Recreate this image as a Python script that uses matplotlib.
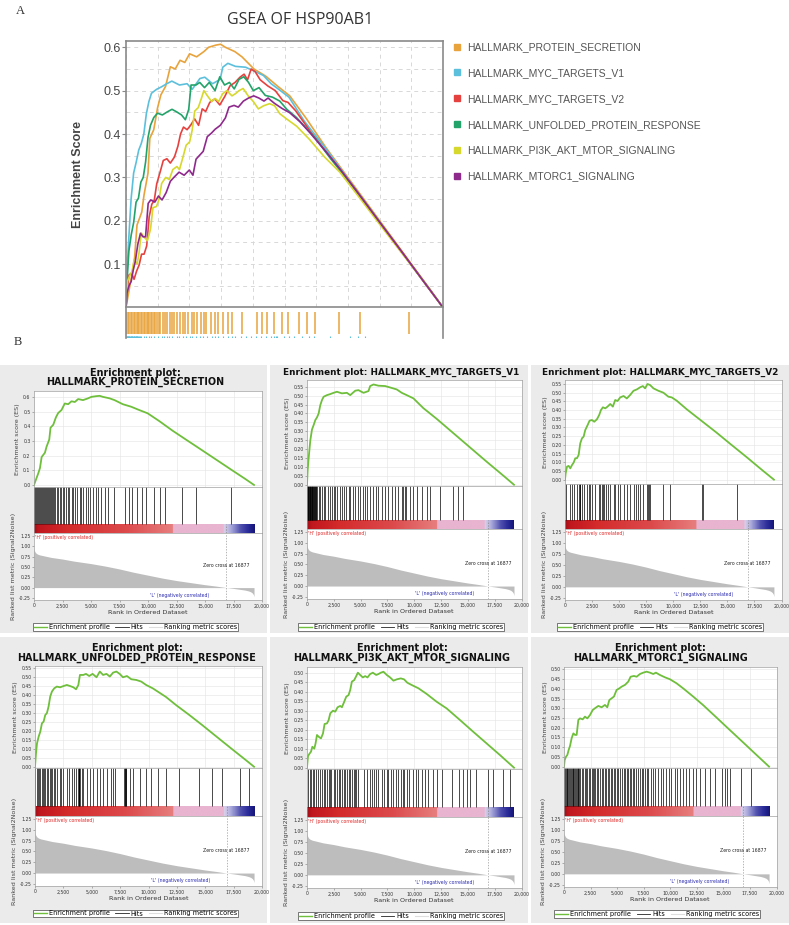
## GSEA of HSP90AB1
# Panel A: the six running enrichment scores overlaid
# Panel B: one classic GSEA enrichment plot per gene set

import numpy as np
import matplotlib.pyplot as plt
from matplotlib.lines import Line2D
from matplotlib.patches import Rectangle
from matplotlib.colors import LinearSegmentedColormap

## Data
n_genes = 19300
zero_cross = 16877

gene_sets = ['HALLMARK_PROTEIN_SECRETION', 'HALLMARK_MYC_TARGETS_V1',
             'HALLMARK_MYC_TARGETS_V2', 'HALLMARK_UNFOLDED_PROTEIN_RESPONSE',
             'HALLMARK_PI3K_AKT_MTOR_SIGNALING', 'HALLMARK_MTORC1_SIGNALING']
set_colors = ['#e8a33c', '#5cc0dc', '#e5423f', '#23a36a', '#d7d82e', '#8f2a8d']

# running enrichment score: rank and ES
es_rank_secretion = [0, 378, 523, 670, 960, 1100, 1340, 1450, 1690, 1920, 2120, 2410, 2700, 3000,
                     3290, 3580, 3870, 4300, 4740, 5030, 5470, 5760, 6050, 6630, 7060, 7790, 8520,
                     9240, 9970, 10990, 12150, 13310, 14480, 15930, 17380, 18550, 19300]
es_secretion = [0, 0.08, 0.115, 0.19, 0.22, 0.26, 0.31, 0.39, 0.41, 0.46, 0.49, 0.51, 0.555, 0.55,
                0.57, 0.565, 0.585, 0.578, 0.59, 0.60, 0.605, 0.607, 0.60, 0.59, 0.578, 0.55, 0.533,
                0.51, 0.488, 0.435, 0.37, 0.31, 0.25, 0.175, 0.10, 0.04, 0]

es_rank_myc1 = [0, 60, 155, 310, 465, 620, 775, 930, 1085, 1240, 1395, 1550, 1860, 2170, 2480,
                2790, 3255, 3720, 4030, 4500, 4800, 5270, 5735, 5890, 6200, 6665, 7285, 7750, 8370,
                8835, 9300, 9920, 10850, 12090, 13640, 15190, 16740, 18290, 19300]
es_myc1 = [0, 0.08, 0.15, 0.25, 0.31, 0.335, 0.363, 0.378, 0.40, 0.447, 0.475, 0.494, 0.503,
           0.509, 0.516, 0.522, 0.513, 0.516, 0.503, 0.528, 0.531, 0.516, 0.526, 0.554, 0.563,
           0.556, 0.554, 0.546, 0.535, 0.516, 0.503, 0.485, 0.43, 0.37, 0.29, 0.21, 0.13,
           0.052, 0]

es_rank_myc2 = [0, 61, 184, 338, 490, 645, 800, 950, 1100, 1260, 1410, 1570, 1720, 1870, 2090,
                2270, 2490, 2700, 2950, 3160, 3320, 3500, 3720, 3930, 4180, 4420, 4640, 4850, 5100,
                5410, 5710, 6020, 6330, 6640, 6940, 7190, 7400, 7620, 7860, 8170, 8630, 9090,
                9550, 9860, 10320, 11240, 12160, 12780, 14010, 15240, 16770, 18310, 19300]
es_myc2 = [0, 0.036, 0.075, 0.079, 0.065, 0.084, 0.098, 0.123, 0.123, 0.142, 0.209, 0.238, 0.247,
           0.285, 0.314, 0.339, 0.343, 0.333, 0.347, 0.372, 0.40, 0.416, 0.41, 0.42, 0.435, 0.42,
           0.458, 0.452, 0.473, 0.481, 0.467, 0.487, 0.511, 0.519, 0.531, 0.538, 0.525, 0.55,
           0.544, 0.525, 0.511, 0.50, 0.477, 0.473, 0.454, 0.405, 0.36, 0.33, 0.27, 0.207,
           0.13, 0.05, 0]

es_rank_upr = [0, 87, 175, 320, 466, 612, 758, 904, 1050, 1195, 1340, 1490, 1690, 1920, 2215,
               2510, 2800, 3090, 3380, 3615, 3820, 3960, 4260, 4490, 4780, 5070, 5420, 5710, 6000,
               6300, 6590, 6880, 7170, 7460, 7750, 8100, 8480, 8920, 9360, 9790, 10380, 10960,
               11540, 12420, 13580, 14750, 15920, 17370, 18540, 19300]
es_upr = [0, 0.075, 0.13, 0.168, 0.196, 0.243, 0.252, 0.289, 0.30, 0.336, 0.392, 0.42, 0.438,
          0.448, 0.444, 0.451, 0.457, 0.451, 0.444, 0.433, 0.457, 0.513, 0.513, 0.519, 0.507,
          0.519, 0.50, 0.532, 0.513, 0.519, 0.504, 0.526, 0.532, 0.519, 0.50, 0.507, 0.489, 0.485,
          0.476, 0.457, 0.438, 0.414, 0.39, 0.345, 0.29, 0.232, 0.172, 0.098, 0.039, 0]

es_rank_pi3k = [0, 93, 250, 370, 500, 680, 800, 930, 1085, 1300, 1490, 1640, 1860, 2015, 2170,
                2420, 2635, 2850, 3100, 3255, 3470, 3660, 3875, 4030, 4185, 4400, 4590, 4740, 4960,
                5210, 5425, 5640, 5890, 6140, 6450, 6665, 6880, 7130, 7440, 7750, 8060, 8370, 8740,
                9050, 9360, 9770, 10390, 11160, 12090, 13020, 14260, 15500, 16740, 17980, 19300]
es_pi3k = [0, 0.061, 0.075, 0.084, 0.11, 0.10, 0.128, 0.172, 0.163, 0.154, 0.18, 0.23, 0.233,
           0.25, 0.286, 0.30, 0.295, 0.318, 0.325, 0.318, 0.347, 0.374, 0.382, 0.409, 0.453,
           0.461, 0.482, 0.50, 0.488, 0.475, 0.482, 0.475, 0.493, 0.50, 0.488, 0.493, 0.50, 0.505,
           0.488, 0.475, 0.458, 0.465, 0.47, 0.465, 0.447, 0.435, 0.418, 0.388, 0.347, 0.312,
           0.251, 0.189, 0.128, 0.067, 0]

es_rank_mtorc1 = [0, 63, 190, 315, 440, 565, 720, 880, 1035, 1190, 1350, 1505, 1755, 1975, 2195,
                  2445, 2700, 2915, 3230, 3540, 3855, 4075, 4265, 4480, 4700, 4950, 5200, 5425,
                  5740, 6050, 6270, 6580, 6835, 7150, 7460, 7775, 8090, 8400, 8650, 9030, 9500,
                  9970, 10600, 11220, 12160, 13100, 14360, 15610, 16870, 18120, 19300]
es_mtorc1 = [0, 0.034, 0.051, 0.06, 0.086, 0.106, 0.146, 0.171, 0.163, 0.163, 0.24, 0.248, 0.243,
             0.257, 0.248, 0.265, 0.291, 0.30, 0.312, 0.305, 0.317, 0.305, 0.342, 0.351, 0.36,
             0.394, 0.402, 0.411, 0.42, 0.437, 0.462, 0.466, 0.462, 0.476, 0.483, 0.488, 0.483,
             0.476, 0.483, 0.471, 0.459, 0.449, 0.428, 0.402, 0.36, 0.316, 0.252, 0.188, 0.124,
             0.06, 0]

# positions (rank) of the gene set members in the ranked list
hits_secretion = [30, 120, 210, 300, 380, 470, 560, 650, 720, 800, 900, 980, 1080, 1150, 1250,
                  1330, 1420, 1520, 1600, 1700, 1790, 1880, 1980, 2100, 2250, 2400, 2520, 2650,
                  2800, 2950, 3100, 3300, 3450, 3600, 3800, 4000, 4150, 4300, 4550, 4750, 4900,
                  5150, 5400, 5600, 5900, 6200, 6450, 7060, 7950, 8300, 8600, 9000, 9480, 9850,
                  10550, 11050, 11500, 12970, 14240, 17240]
hits_myc1 = [10, 40, 70, 100, 130, 170, 200, 240, 280, 310, 350, 390, 420, 460, 500, 540, 580,
             620, 660, 700, 750, 800, 850, 900, 1085, 1240, 1395, 1550, 1705, 1920, 2170, 2325,
             2480, 2635, 2790, 3100, 3255, 3470, 3660, 3875, 4030, 4280, 4500, 4710, 4960, 5210,
             5425, 5580, 5890, 6200, 6450, 6665, 6975, 7285, 7595, 7905, 8215, 8525, 8835, 8990,
             9150, 9200, 9610, 9920, 10230, 10700, 11160, 11470, 12400, 13640, 14100, 14570]
hits_myc2 = [123, 430, 645, 860, 1106, 1260, 1350, 1413, 1567, 1782, 2028, 2181, 2335, 2488,
             2795, 3103, 3256, 3410, 3502, 3625, 3809, 3932, 4178, 4546, 4639, 4854, 5038, 5407,
             5714, 6021, 6328, 6574, 6789, 6943, 7189, 7557, 7711, 7803, 7864, 9032, 9708,
             12626, 12718, 15913]
hits_upr = [30, 170, 260, 380, 470, 610, 700, 820, 900, 1050, 1140, 1280, 1400, 1490, 1630,
            1780, 1920, 2160, 2270, 2510, 2800, 3030, 3240, 3440, 3610, 3830, 3860, 3890, 3920,
            3950, 4110, 4260, 4550, 4840, 5130, 5420, 5710, 6000, 6300, 6730, 6880, 7030, 7850,
            7900, 7950, 8000, 8050, 8340, 8630, 9210, 9790, 10230, 10810, 11540, 12710, 14460,
            15570, 16440, 18100, 18830]
hits_pi3k = [60, 250, 370, 560, 680, 870, 990, 1240, 1395, 1550, 1700, 1860, 2015, 2170, 2260,
             2480, 2635, 2790, 2950, 3100, 3255, 3410, 3560, 3720, 3875, 4030, 4185, 4340, 4500,
             4590, 4710, 5330, 5580, 5830, 6045, 6260, 6450, 6665, 6975, 7190, 7440, 7595, 7810,
             8060, 8310, 8525, 8740, 8930, 9050, 9300, 9550, 9920, 10170, 10385, 10700, 11000,
             11315, 11780, 12090, 12555, 13490, 14200, 14570, 14880, 15190, 15750, 16900, 17300,
             18230, 18970]
hits_mtorc1 = [20, 90, 160, 250, 320, 400, 470, 560, 640, 720, 800, 870, 960, 1050, 1130, 1210,
               1290, 1350, 1420, 1540, 1680, 1820, 1950, 2080, 2200, 2330, 2450, 2600, 2700, 2820,
               2950, 3100, 3230, 3400, 3550, 3700, 3850, 3980, 4150, 4270, 4400, 4520, 4700,
               4830, 4950, 5100, 5250, 5420, 5600, 5750, 5900, 6050, 6200, 6280, 6450, 6620,
               6800, 6980, 7150, 7300, 7460, 7620, 7780, 7950, 8150, 8350, 8600, 8850, 9100,
               9350, 9600, 9850, 10100, 10400, 10650, 10900, 11200, 11500, 11800, 12100, 12400,
               12790, 13260, 13730, 14200, 14830, 15140, 15360, 15610, 16620, 17560]

# ranked list metric (Signal2Noise), same list for every plot
metric_rank = [0, 20, 60, 150, 300, 500, 1000, 1500, 2500, 3500, 5000, 6250, 7500, 8750, 10000,
               11250, 12500, 13750, 15000, 16000, 16877, 17500, 18000, 18500, 18800, 19000,
               19150, 19250, 19300]
metric_value = [1.0, 0.92, 0.88, 0.84, 0.81, 0.79, 0.76, 0.73, 0.69, 0.64, 0.58, 0.52, 0.45,
                0.37, 0.30, 0.23, 0.17, 0.12, 0.07, 0.035, 0.0, -0.02, -0.04, -0.06, -0.08, -0.10,
                -0.13, -0.17, -0.22]

# red - pink - blue bar under the hits
bar_rank = [0, 400, 3000, 8000, 12150, 12150, 16650, 16650, 17240, 18110, 18780, 19300]
bar_colors = ['#a50f17', '#c0161e', '#d42b2c', '#dc4a4c', '#e77e7e', '#e8b4d0', '#e8b4d0',
              '#d8d0ea', '#a9a9dc', '#4f4fae', '#2a2a98', '#16167a']

es_ranks = [es_rank_secretion, es_rank_myc1, es_rank_myc2, es_rank_upr, es_rank_pi3k, es_rank_mtorc1]
es_values = [es_secretion, es_myc1, es_myc2, es_upr, es_pi3k, es_mtorc1]
hits = [hits_secretion, hits_myc1, hits_myc2, hits_upr, hits_pi3k, hits_mtorc1]

## Figure
W, H = 789, 925
fig = plt.figure(figsize=(W / 100, H / 100), dpi=100)

# pixel box (left, top, right, bottom) -> figure rect
def px_box(l, t, r, b):
  return [l / W, 1 - b / H, (r - l) / W, (b - t) / H]

sans = 'Liberation Sans'

## Panel A
fig.text(20 / W, 1 - 11 / H, 'A', family='Liberation Serif', fontsize=9, color='#333',
         ha='center', va='center')
fig.text(300 / W, 1 - 20 / H, 'GSEA OF HSP90AB1', family='Open Sans', fontsize=11.5,
         color='#333', ha='center', va='center')

axA = fig.add_axes(px_box(126, 41, 443, 307.5))
for r, v, c in zip(es_ranks, es_values, set_colors):
  axA.plot(r, v, color=c, lw=1.2)
axA.set_xlim(0, n_genes)
axA.set_ylim(0, 0.6145)
axA.set_xticks(np.linspace(0, n_genes, 11))
axA.set_yticks([0.1, 0.2, 0.3, 0.4, 0.5, 0.6])
axA.set_yticks(np.arange(0.05, 0.61, 0.1), minor=True)
axA.grid(True, which='both', ls=(0, (4, 4)), color='#d8d8d8', lw=0.7)
axA.tick_params(axis='x', length=0, labelbottom=False)
axA.tick_params(axis='y', which='major', length=3, width=0.8, color='#888',
                labelsize=9, labelcolor='#444', pad=1)
axA.tick_params(axis='y', which='minor', length=0)
for lab in axA.get_yticklabels():
  lab.set_family(sans)
for s in axA.spines.values():
  s.set_color('#8a8a8a')
  s.set_linewidth(1.2)
axA.set_ylabel('Enrichment Score', family=sans, fontsize=9, fontweight='bold',
               color='#444', labelpad=14)

# rug of the PROTEIN_SECRETION hits (MYC_TARGETS_V1 row cut off below)
axR = fig.add_axes(px_box(126, 307.5, 443, 338))
axR.vlines(hits_secretion, 0.13, 0.84, color=set_colors[0], lw=1.1)
axR.vlines(hits_myc1, 0.0, 0.06, color=set_colors[1], lw=0.8)
axR.set_xlim(0, n_genes)
axR.set_ylim(0, 1)
axR.set_xticks([])
axR.set_yticks([])
axR.spines['bottom'].set_visible(False)
axR.spines['top'].set_visible(False)
for s in ['left', 'right']:
  axR.spines[s].set_color('#8a8a8a')
  axR.spines[s].set_linewidth(1.2)

handles = [Line2D([], [], marker='s', ls='', color=c, markersize=4.5) for c in set_colors]
fig.legend(handles, gene_sets, loc='upper left', bbox_to_anchor=(450 / W, 1 - 38 / H),
           frameon=False, prop={'family': sans, 'size': 7.5}, labelcolor='#555',
           labelspacing=1.52, handlelength=0.6, handletextpad=0.6, borderaxespad=0)

## Panel B
fig.text(18 / W, 1 - 342 / H, 'B', family='Liberation Serif', fontsize=9, color='#333',
         ha='center', va='center')

# grey panel backgrounds
for (l, r) in [(0, 267), (270, 528), (531, 789)]:
  for (t, b) in [(365, 633), (637, 923)]:
    fig.add_artist(Rectangle((l / W, 1 - b / H), (r - l) / W, (b - t) / H,
                             transform=fig.transFigure, facecolor='#ebebeb',
                             edgecolor='none', zorder=-1))

# left, right, ES top, ES bottom, hits bottom, ranked bottom, title x, title y, legend x, legend y
layout = [(34, 262, 391, 487, 533, 600, 135, 377.5, 135.5, 627),
          (307, 521.5, 380, 486, 529, 599, 401, 372, 401, 627),
          (565, 781.5, 380, 484, 529, 600, 660, 372, 660, 627),
          (35, 262, 666, 768, 816, 886, 137, 653, 135.5, 913.5),
          (307, 521.5, 667, 769, 817, 888, 402, 653, 401, 916),
          (564, 776.5, 667, 768, 816, 887, 660, 653, 657, 914)]
titles = ['Enrichment plot:\nHALLMARK_PROTEIN_SECRETION',
          'Enrichment plot: HALLMARK_MYC_TARGETS_V1',
          'Enrichment plot: HALLMARK_MYC_TARGETS_V2',
          'Enrichment plot:\nHALLMARK_UNFOLDED_PROTEIN_RESPONSE',
          'Enrichment plot:\nHALLMARK_PI3K_AKT_MTOR_SIGNALING',
          'Enrichment plot:\nHALLMARK_MTORC1_SIGNALING']
title_sizes = [6.9, 6.4, 6.4, 6.9, 6.9, 6.9]
es_ylims = [(-0.014, 0.64), (-0.007, 0.588), (-0.025, 0.573),
            (-0.007, 0.563), (-0.007, 0.53), (-0.007, 0.512)]
es_tick_max = [0.6, 0.55, 0.55, 0.55, 0.5, 0.5]
es_tick_step = [0.1, 0.05, 0.05, 0.05, 0.05, 0.05]

bar_cmap = LinearSegmentedColormap.from_list(
  'ranked', list(zip(np.array(bar_rank) / bar_rank[-1], bar_colors)))
rank_ticks = np.arange(0, 20001, 2500)
green = '#6fbf3c'
tick_fs = 3.3
spine_c = '#a0a0a0'

def style(ax):
  for s in ax.spines.values():
    s.set_color(spine_c)
    s.set_linewidth(0.5)
  ax.tick_params(length=1.5, width=0.4, color='#777', labelsize=tick_fs, pad=1,
                 labelcolor='#333')
  ax.set_xlim(0, 20000)

for i in range(6):
  l, r, t_es, b_es, b_hit, b_rank, tx, ty, lx, ly = layout[i]

  # running enrichment score
  ax = fig.add_axes(px_box(l, t_es, r, b_es))
  ax.plot(es_ranks[i], es_values[i], color=green, lw=1.3)
  style(ax)
  ax.set_ylim(*es_ylims[i])
  ticks = np.arange(0, es_tick_max[i] + 1e-6, es_tick_step[i])
  ax.set_yticks(ticks)
  ax.set_yticklabels(['%.1f' % v if es_tick_step[i] == 0.1 else '%.2f' % v for v in ticks])
  ax.set_xticks(rank_ticks)
  ax.tick_params(axis='x', length=0, labelbottom=False)
  ax.grid(True, color='#e4e4e4', lw=0.4)
  ax.set_axisbelow(True)
  ax.set_ylabel('Enrichment score (ES)', fontsize=4.6, color='#444', labelpad=2)

  # hits and the colour bar of the ranked list
  axh = fig.add_axes(px_box(l, b_es, r, b_hit))
  axh.vlines(hits[i], 0.2, 1.0, color='black', lw=0.5)
  axh.imshow(np.linspace(0, 1, 800)[None, :], cmap=bar_cmap, aspect='auto',
             extent=(0, bar_rank[-1], 0.01, 0.2))
  axh.plot([zero_cross, zero_cross], [0.01, 0.2], color='#888', lw=0.5, ls=(0, (2, 2)))
  style(axh)
  axh.set_ylim(0, 1)
  axh.set_xticks([])
  axh.set_yticks([])

  # ranked list metric
  axm = fig.add_axes(px_box(l, b_hit, r, b_rank))
  axm.fill_between(metric_rank, 0, metric_value, color='#bdbdbd', lw=0)
  axm.axvline(zero_cross, color='#999', lw=0.5, ls=(0, (2, 2)))
  style(axm)
  axm.set_ylim(-0.3, 1.32)
  axm.set_yticks([-0.25, 0, 0.25, 0.5, 0.75, 1.0, 1.25])
  axm.set_yticklabels(['-0.25', '0.00', '0.25', '0.50', '0.75', '1.00', '1.25'])
  axm.set_xticks(rank_ticks)
  axm.set_xticklabels(['{:,}'.format(v) for v in rank_ticks])
  axm.set_xlabel('Rank in Ordered Dataset', fontsize=4.6, color='#333', labelpad=1)
  axm.set_ylabel('Ranked list metric (Signal2Noise)', fontsize=4.6, color='#444', labelpad=2)
  axm.text(100, 1.27, "'H' (positively correlated)", color='#e02828', fontsize=3.3,
           ha='left', va='top')
  axm.text(zero_cross, 0.53, 'Zero cross at 16877', color='#222', fontsize=3.3,
           ha='center', va='center')
  axm.text(12800, -0.18, "'L' (negatively correlated)", color='#2a2ab0', fontsize=3.3,
           ha='center', va='center')

  fig.text(tx / W, 1 - ty / H, titles[i], fontsize=title_sizes[i], fontweight='bold',
           color='#111', ha='center', va='center', linespacing=0.95)

  leg_handles = [Line2D([], [], color=green, lw=1.0), Line2D([], [], color='#222', lw=0.6),
                 Line2D([], [], color='#dedede', lw=0.8)]
  fig.legend(leg_handles, ['Enrichment profile', 'Hits', 'Ranking metric scores'],
             loc='center', bbox_to_anchor=(lx / W, 1 - ly / H), ncol=3, fontsize=4.7,
             frameon=True, fancybox=False, edgecolor='#444', framealpha=1,
             borderpad=0.15, handlelength=2.0, handletextpad=0.3, columnspacing=0.9,
             borderaxespad=0).get_frame().set_linewidth(0.5)

plt.savefig('out.png', dpi=100)
